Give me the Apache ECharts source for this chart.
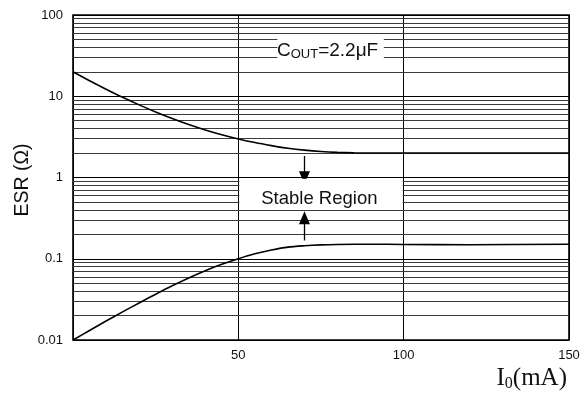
<!DOCTYPE html>
<html>
<head>
<meta charset="utf-8">
<script src="https://cdn.jsdelivr.net/npm/echarts@6/dist/echarts.min.js"></script>
<style>html,body{margin:0;padding:0;background:#fff}#c{width:587px;height:394px}</style>
</head>
<body>
<div id="c"></div>
<script>
// Data
const upperX = [0, 5, 10, 15, 20, 25, 30, 35, 40, 45, 50, 55, 60, 65, 70, 75, 80, 85, 90, 100, 150];
const upperY = [20, 15.5, 12.2, 9.7, 7.83, 6.41, 5.32, 4.48, 3.84, 3.35, 2.98, 2.69, 2.47, 2.29, 2.17, 2.09, 2.04, 2.01, 2.0, 2.0, 2.0];
const lowerX = [0, 5, 10, 15, 20, 25, 30, 35, 40, 45, 50, 55, 60, 65, 70, 75, 80, 90, 100, 120, 150];
const lowerY = [0.01, 0.0131, 0.0171, 0.0222, 0.0286, 0.0366, 0.0465, 0.0581, 0.0713, 0.0853, 0.1, 0.115, 0.128, 0.139, 0.1445, 0.148, 0.1496, 0.151, 0.15, 0.149, 0.151];
const yTicks = [0.01, 0.1, 1, 10, 100];
const xTicks = [50, 100, 150];
const minorMultipliers = [2, 3, 4, 5, 6, 7, 8, 9];
const arrowX = 70;
const arrowDown = [1.84, 0.99];
const arrowUp = [0.168, 0.32];
const coutBox = {x: [61.5, 94.3], y: [21, 58]};
const stableBox = {x: [50, 100], y: [0.43, 0.965]};

const minorLines = [];
for (let d = 0; d < yTicks.length - 1; d++) {
  for (const m of minorMultipliers) minorLines.push({yAxis: +(yTicks[d] * m).toPrecision(3)});
}

const chart = echarts.init(document.getElementById('c'), null, {renderer: 'canvas'});
const font = '"Liberation Sans", Arial, sans-serif';
const serif = '"Liberation Serif", "Times New Roman", serif';
chart.setOption({
  animation: false,
  grid: {left: 73, right: 18, top: 15, bottom: 54, show: true, borderColor: '#000', borderWidth: 1.6, backgroundColor: 'transparent'},
  xAxis: {
    type: 'value', min: 0, max: 150, interval: 50,
    axisLine: {show: false}, axisTick: {show: false},
    axisLabel: {color: '#111', fontSize: 13, fontFamily: font, margin: 9,
      formatter: v => xTicks.includes(v) ? String(v) : ''},
    splitLine: {show: true, lineStyle: {color: '#000', width: 1}}
  },
  yAxis: {
    type: 'log', min: 0.01, max: 100, logBase: 10,
    axisLine: {show: false}, axisTick: {show: false},
    axisLabel: {color: '#111', fontSize: 13, fontFamily: font, margin: 10,
      formatter: v => { const t = yTicks.find(k => Math.abs(k - v) / k < 1e-6); return t === undefined ? '' : String(t); }},
    splitLine: {show: true, lineStyle: {color: '#000', width: 1.2}}
  },
  series: [
    {
      type: 'line', data: [], silent: true, z: 1,
      markLine: {silent: true, symbol: ['none', 'none'], label: {show: false},
        lineStyle: {color: '#3a3a3a', width: 1.2, type: 'solid'}, data: minorLines, animation: false}
    },
    {
      type: 'line', data: upperX.map((x, i) => [x, upperY[i]]), smooth: 0.3, showSymbol: false, z: 5,
      lineStyle: {color: '#000', width: 1.6}
    },
    {
      type: 'line', data: lowerX.map((x, i) => [x, lowerY[i]]), smooth: 0.3, showSymbol: false, z: 5,
      lineStyle: {color: '#000', width: 1.6}
    },
    {
      type: 'line', data: [], z: 6, silent: true,
      markLine: {silent: true, symbol: ['none', 'triangle'], symbolSize: [11, 13], label: {show: false},
        lineStyle: {color: '#000', width: 1.3, type: 'solid'},
        data: [
          [{coord: [arrowX, arrowDown[0]]}, {coord: [arrowX, arrowDown[1]]}],
          [{coord: [arrowX, arrowUp[0]]}, {coord: [arrowX, arrowUp[1]]}]
        ]}
    }
  ]
});

function rectFrom(box) {
  const a = chart.convertToPixel({gridIndex: 0}, [box.x[0], box.y[1]]);
  const b = chart.convertToPixel({gridIndex: 0}, [box.x[1], box.y[0]]);
  return {x: a[0] + 1, y: a[1], width: b[0] - a[0] - 2, height: b[1] - a[1]};
}
const pc = chart.convertToPixel({gridIndex: 0}, [77, 36]);
const ps = chart.convertToPixel({gridIndex: 0}, [74.5, 0.54]);
chart.setOption({
  graphic: [
    {type: 'rect', shape: rectFrom(coutBox), style: {fill: '#fff'}, z: 50, silent: true},
    {type: 'rect', shape: rectFrom(stableBox), style: {fill: '#fff'}, z: 50, silent: true},
    {type: 'text', x: pc[0], y: pc[1], z: 100,
      style: {rich: {a: {fontSize: 19, fontFamily: font, fill: '#111'}, s: {fontSize: 13, fontFamily: font, fill: '#111', padding: [7, 0, 0, 0]}},
        text: '{a|C}{s|OUT}{a|=2.2μF}', align: 'center', verticalAlign: 'middle'}},
    {type: 'text', x: ps[0], y: ps[1], z: 100,
      style: {text: 'Stable Region', font: '18.5px ' + font, fill: '#111', align: 'center', verticalAlign: 'middle'}},
    {type: 'text', x: 23, y: 180, rotation: Math.PI / 2, z: 100,
      style: {text: 'ESR (Ω)', font: '19.5px ' + font, fill: '#111', align: 'center', verticalAlign: 'middle'}},
    {type: 'text', x: 567, y: 378, z: 100,
      style: {rich: {a: {fontSize: 25, fontFamily: serif, fill: '#111'}, s: {fontSize: 16, fontFamily: serif, fill: '#111', padding: [11, 0, 0, 0]}},
        text: '{a|I}{s|0}{a|(mA)}', align: 'right', verticalAlign: 'middle'}}
  ]
});
</script>
</body>
</html>
